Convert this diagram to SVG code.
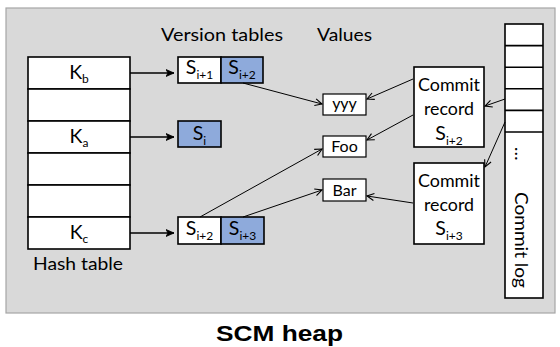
<svg xmlns="http://www.w3.org/2000/svg" width="560" height="347" viewBox="0 0 560 347">
  <defs>
    <style>
      .t { font-family: Lato, "Liberation Sans", sans-serif; fill: #000; }
      .lbl { font-size: 18px; }
      .key { font-size: 19.5px; }
      .val { font-size: 16px; }
      .sub { font-size: 12px; }
      .cell { fill: #fff; stroke: #000; stroke-width: 1.6; }
      .blue { fill: #8eaadb; stroke: #000; stroke-width: 1.6; }
      .vbox { fill: #fff; stroke: #000; stroke-width: 1.2; }
      .edge { stroke: #000; stroke-width: 1; fill: none; marker-end: url(#open); }
      .edge-solid { stroke: #000; stroke-width: 1.4; fill: none; marker-end: url(#solid); }
    </style>
    <marker id="open" markerUnits="userSpaceOnUse" markerWidth="10" markerHeight="10" viewBox="0 0 10 10" refX="8" refY="5" orient="auto">
      <path d="M1,1.5 L8,5 L1,8.5" fill="none" stroke="#000" stroke-width="1.1"/>
    </marker>
    <marker id="solid" markerUnits="userSpaceOnUse" markerWidth="10" markerHeight="10" viewBox="0 0 10 10" refX="8" refY="5" orient="auto">
      <path d="M0,1.5 L8,5 L0,8.5 L2,5 Z" fill="#000" stroke="#000" stroke-width="0.8"/>
    </marker>
  </defs>

  <!-- heap area -->
  <rect x="6" y="8" width="549" height="305" fill="#d9d9d9" stroke="#a6a6a6" stroke-width="1.2"/>

  <!-- section titles -->
  <text class="t lbl" x="161" y="41" textLength="122" lengthAdjust="spacingAndGlyphs">Version tables</text>
  <text class="t lbl" x="317" y="41" textLength="55" lengthAdjust="spacingAndGlyphs">Values</text>

  <!-- hash table -->
  <g id="hash-table">
    <rect class="cell" x="28" y="57" width="102" height="32"/>
    <rect class="cell" x="28" y="89" width="102" height="32"/>
    <rect class="cell" x="28" y="121" width="102" height="32"/>
    <rect class="cell" x="28" y="153" width="102" height="32"/>
    <rect class="cell" x="28" y="185" width="102" height="32"/>
    <rect class="cell" x="28" y="217" width="102" height="32"/>
    <text class="t key" x="79" y="79" text-anchor="middle">K<tspan class="sub" dy="4">b</tspan></text>
    <text class="t key" x="79" y="143" text-anchor="middle">K<tspan class="sub" dy="4">a</tspan></text>
    <text class="t key" x="79" y="239" text-anchor="middle">K<tspan class="sub" dy="4">c</tspan></text>
    <text class="t lbl" x="33" y="270" textLength="90" lengthAdjust="spacingAndGlyphs">Hash table</text>
  </g>

  <!-- version tables -->
  <g id="version-b">
    <rect class="cell" x="178" y="57" width="43" height="26"/>
    <rect class="blue" x="221" y="57" width="42" height="26"/>
    <text class="t key" x="199.5" y="74" text-anchor="middle">S<tspan class="sub" dy="5">i+1</tspan></text>
    <text class="t key" x="242" y="74" text-anchor="middle">S<tspan class="sub" dy="5">i+2</tspan></text>
  </g>
  <g id="version-a">
    <rect class="blue" x="178" y="121" width="43" height="26"/>
    <text class="t key" x="199.5" y="140" text-anchor="middle">S<tspan class="sub" dy="5">i</tspan></text>
  </g>
  <g id="version-c">
    <rect class="cell" x="178" y="217" width="43" height="27"/>
    <rect class="blue" x="221" y="217" width="43" height="27"/>
    <text class="t key" x="199.5" y="235" text-anchor="middle">S<tspan class="sub" dy="5">i+2</tspan></text>
    <text class="t key" x="242.5" y="235" text-anchor="middle">S<tspan class="sub" dy="5">i+3</tspan></text>
  </g>

  <!-- values -->
  <g id="value-yyy">
    <rect class="vbox" x="323" y="94" width="43" height="21"/>
    <text class="t val" x="344.5" y="109" text-anchor="middle">yyy</text>
  </g>
  <g id="value-foo">
    <rect class="vbox" x="323" y="136" width="43" height="21"/>
    <text class="t val" x="344.5" y="152" text-anchor="middle">Foo</text>
  </g>
  <g id="value-bar">
    <rect class="vbox" x="323" y="179" width="43" height="22"/>
    <text class="t val" x="344.5" y="195.5" text-anchor="middle">Bar</text>
  </g>

  <!-- commit records -->
  <g id="commit-record-1">
    <rect class="cell" x="414" y="67" width="70" height="80"/>
    <text class="t lbl" x="449" y="91" text-anchor="middle" textLength="62" lengthAdjust="spacingAndGlyphs">Commit</text>
    <text class="t lbl" x="449" y="115" text-anchor="middle" textLength="50" lengthAdjust="spacingAndGlyphs">record</text>
    <text class="t key" x="449" y="140" text-anchor="middle">S<tspan class="sub" dy="5">i+2</tspan></text>
  </g>
  <g id="commit-record-2">
    <rect class="cell" x="414" y="163" width="70" height="81"/>
    <text class="t lbl" x="449" y="187" text-anchor="middle" textLength="62" lengthAdjust="spacingAndGlyphs">Commit</text>
    <text class="t lbl" x="449" y="211" text-anchor="middle" textLength="50" lengthAdjust="spacingAndGlyphs">record</text>
    <text class="t key" x="449" y="235" text-anchor="middle">S<tspan class="sub" dy="5">i+3</tspan></text>
  </g>

  <!-- commit log -->
  <g id="commit-log">
    <rect class="cell" x="505" y="24" width="38" height="274"/>
    <line x1="505" y1="45.6" x2="543" y2="45.6" stroke="#000" stroke-width="1.6"/>
    <line x1="505" y1="67.2" x2="543" y2="67.2" stroke="#000" stroke-width="1.6"/>
    <line x1="505" y1="88.8" x2="543" y2="88.8" stroke="#000" stroke-width="1.6"/>
    <line x1="505" y1="110.4" x2="543" y2="110.4" stroke="#000" stroke-width="1.6"/>
    <line x1="505" y1="132" x2="543" y2="132" stroke="#000" stroke-width="1.6"/>
    <text class="t lbl" transform="translate(515,147) rotate(90)">…</text>
    <text class="t lbl" transform="translate(515,192) rotate(90)" textLength="96" lengthAdjust="spacingAndGlyphs">Commit log</text>
  </g>

  <!-- connectors -->
  <g id="connectors">
    <line class="edge-solid" x1="130" y1="73" x2="174" y2="73"/>
    <line class="edge-solid" x1="130" y1="137" x2="174" y2="137"/>
    <line class="edge-solid" x1="130" y1="233" x2="174" y2="233"/>
    <line class="edge" x1="243" y1="83" x2="322" y2="104"/>
    <line class="edge" x1="413" y1="79" x2="367" y2="99"/>
    <line class="edge" x1="413" y1="115" x2="367" y2="140"/>
    <line class="edge" x1="200" y1="217" x2="322" y2="149"/>
    <line class="edge" x1="243" y1="217" x2="322" y2="190"/>
    <line class="edge" x1="413" y1="203" x2="367" y2="196"/>
    <line class="edge" x1="505" y1="99" x2="485" y2="106"/>
    <line class="edge" x1="505" y1="122" x2="485" y2="167"/>
  </g>

  <!-- caption -->
  <text x="279.5" y="341" text-anchor="middle" font-family="'Liberation Sans', Arial, sans-serif" font-weight="bold" font-size="22" textLength="127" lengthAdjust="spacingAndGlyphs">SCM heap</text>
</svg>
